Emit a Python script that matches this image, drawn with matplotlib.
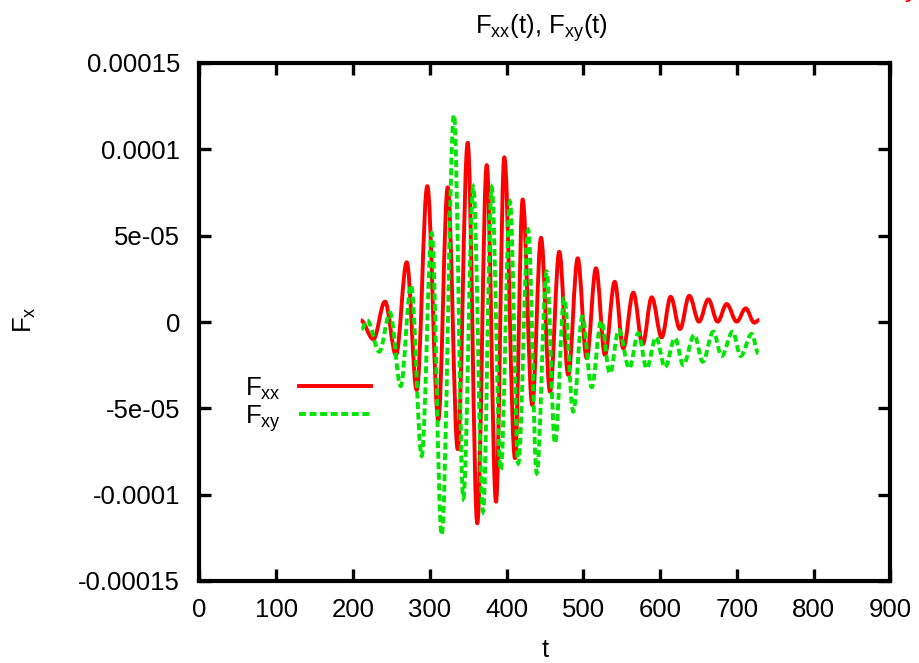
import matplotlib
matplotlib.use("Agg")
import matplotlib.pyplot as plt
from matplotlib.path import Path
from matplotlib.patches import PathPatch
from matplotlib.lines import Line2D
from matplotlib.ticker import FixedLocator, FixedFormatter

plt.rcParams['font.family'] = ['Liberation Sans', 'DejaVu Sans']
plt.rcParams['mathtext.fontset'] = 'custom'
plt.rcParams['mathtext.rm'] = 'Liberation Sans'
plt.rcParams['mathtext.it'] = 'Liberation Sans'
plt.rcParams['lines.scale_dashes'] = False

# ---- data (turning points of each curve, values in units of 1e-5) ----
SCALE = 1e-5
fxx_t = [210.0, 226.4, 241.6, 255.9, 269.9, 282.9, 296.7, 311.0, 323.3, 336.3,
         349.3, 361.8, 374.1, 386.2, 397.0, 410.9, 420.9, 433.4, 444.8, 456.5,
         468.6, 480.3, 492.6, 504.3, 516.4, 528.1, 540.8, 551.9, 565.0, 577.2,
         589.0, 602.0, 613.7, 625.8, 637.9, 650.6, 662.7, 674.9, 686.6, 699.7,
         711.4, 722.6, 729.1]
fxx_v = [0.1, -1.00, 1.18, -1.91, 3.46, -3.94, 7.87, -5.67, 7.80, -7.37,
         10.38, -11.66, 9.09, -10.41, 9.54, -7.89, 7.10, -4.81, 4.88, -4.04,
         4.07, -3.07, 3.69, -2.10, 3.11, -1.91, 2.33, -1.52, 1.70, -1.29,
         1.43, -0.89, 1.46, -0.41, 1.52, 0.02, 1.31, 0.02, 1.04, 0.02,
         0.79, -0.04, 0.12]

fxy_t = [211.0, 218.6, 234.2, 248.1, 262.0, 275.5, 289.4, 302.4, 315.4, 331.5,
         343.6, 356.6, 369.2, 380.6, 392.3, 404.4, 415.2, 428.2, 439.2, 452.2,
         463.0, 475.1, 486.8, 498.6, 510.8, 523.2, 534.6, 546.1, 559.8, 571.5,
         582.4, 594.6, 606.3, 619.3, 630.1, 644.4, 655.4, 669.2, 680.1, 694.4,
         704.9, 719.2, 727.8]
fxy_v = [-0.4, 0.08, -1.72, 0.54, -3.71, 2.14, -7.76, 5.14, -12.33, 11.99,
         -10.21, 7.83, -10.98, 7.80, -8.57, 6.97, -8.18, 5.33, -8.76, 2.91,
         -7.02, 1.37, -5.19, 0.31, -3.78, 0.06, -2.97, -0.46, -2.68, -0.65,
         -2.68, -0.89, -2.62, -0.94, -2.49, -0.75, -2.30, -0.56, -1.97, -0.56,
         -1.97, -0.69, -1.81]

x_ticks = [0, 100, 200, 300, 400, 500, 600, 700, 800, 900]
y_ticks = [-0.00015, -0.0001, -0.00005, 0.0, 0.00005, 0.0001, 0.00015]
y_tick_labels = ['-0.00015', '-0.0001', '-5e-05', '0', '5e-05', '0.0001', '0.00015']

title_text = r'$\mathrm{F_{xx}}$(t), $\mathrm{F_{xy}}$(t)'
series_labels = [r'$\mathrm{F_{xx}}$', r'$\mathrm{F_{xy}}$']
x_label = 't'
y_label = r'$\mathrm{F_{x}}$'


def smooth_path(ts, vs):
    """Bezier path through turning points with horizontal tangents."""
    ys = [v * SCALE for v in vs]
    verts = [(ts[0], ys[0])]
    codes = [Path.MOVETO]
    for i in range(len(ts) - 1):
        d = 0.3634 * (ts[i + 1] - ts[i])
        verts += [(ts[i] + d, ys[i]), (ts[i + 1] - d, ys[i + 1]), (ts[i + 1], ys[i + 1])]
        codes += [Path.CURVE4] * 3
    return Path(verts, codes)


FS = 18.5
RED = '#ff0000'
GREEN = '#00e600'
LW = 2.8
DASH = (0, (5.0, 2.6))

fig = plt.figure(figsize=(9.2, 6.63), dpi=100)
ax = fig.add_axes([199.5 / 920, 1 - 581 / 663, 691 / 920, 518 / 663])

ax.add_patch(PathPatch(smooth_path(fxx_t, fxx_v), fill=False, edgecolor=RED,
                       lw=LW, capstyle='butt', joinstyle='round', zorder=3))
ax.add_patch(PathPatch(smooth_path(fxy_t, fxy_v), fill=False, edgecolor=GREEN,
                       lw=LW, linestyle=DASH, capstyle='butt', zorder=4))

ax.set_xlim(0, 900)
ax.set_ylim(-0.00015, 0.00015)
ax.xaxis.set_major_locator(FixedLocator(x_ticks))
ax.yaxis.set_major_locator(FixedLocator(y_ticks))
ax.yaxis.set_major_formatter(FixedFormatter(y_tick_labels))
ax.tick_params(which='both', direction='in', length=8.5, width=2.4,
               top=True, right=True, labelsize=FS, pad=12)
ax.tick_params(axis='y', pad=14)
for s in ax.spines.values():
    s.set_linewidth(3.0)

ax.set_xlabel(x_label, fontsize=FS)
ax.xaxis.set_label_coords(0.5, (581 - 657) / 518)
ax.xaxis.label.set_va('baseline')
ax.set_ylabel(y_label, fontsize=FS)
ax.yaxis.set_label_coords((25 - 199.5) / 691, (581 - 320) / 518)
ax.yaxis.label.set_va('center')

fig.text(541 / 920, 1 - 33.3 / 663, title_text, ha='center', va='baseline', fontsize=FS)

handles = [Line2D([], [], color=RED, lw=LW),
           Line2D([], [], color=GREEN, lw=LW, linestyle=DASH, dash_capstyle='butt')]
ax.legend(handles, series_labels, loc='upper left', bbox_to_anchor=(0.066, 0.397),
          frameon=False, markerfirst=False, fontsize=FS, handlelength=2.8,
          handletextpad=0.7, labelspacing=0.05, borderpad=0, borderaxespad=0)

fig.text(906 / 920, 1 + 2.5 / 663, 'y', color=RED, fontsize=FS, style='italic', va='baseline')

fig.savefig('out.png', dpi=100)
